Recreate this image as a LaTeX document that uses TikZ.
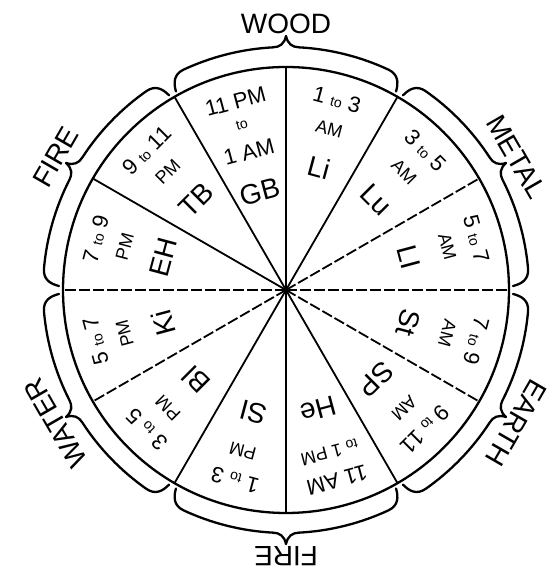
\documentclass[tikz,border=0pt]{standalone}
\usepackage{fontspec}
\setmainfont{Liberation Sans}
\newcommand\tto{{\fontsize{14}{14}\selectfont to}}
\begin{document}
\begin{tikzpicture}[x=1pt,y=1pt,
  rim/.style={line width=2.3pt},
  spoke/.style={line width=1.8pt},
  brk/.style={line width=1.8pt, dash pattern=on 11pt off 3pt},
  elembrace/.style={line width=2.3pt, line join=round, line cap=round},
  tm/.style={font=\fontsize{22}{22}\selectfont, inner sep=0pt},
  ap/.style={font=\fontsize{18}{18}\selectfont, inner sep=0pt},
  org/.style={font=\fontsize{28}{28}\selectfont, inner sep=0pt},
  elem/.style={font=\fontsize{28}{28}\selectfont, inner sep=0pt}]
\fill[white] (0,0) rectangle (552,575);
\useasboundingbox (0,0) rectangle (552,575);
\begin{scope}[shift={(286,285)}]
  \coordinate (O) at (0,0);
  % rim
  \draw[rim] (O) circle[radius=223];
  % spokes
  \foreach \a in {90,60,120,-60,-90,-120,150}{
    \coordinate (p\a) at (\a:223);
    \draw[spoke] (O) -- (p\a);
  }
  \foreach \a in {0,30,-30,180,-150}{
    \coordinate (p\a) at (\a:223);
    \draw[brk] (O) -- (p\a);
  }
  % element braces and labels
  \foreach \m/\i/\lbl in {90/1/WOOD,30/2/METAL,-30/3/EARTH,-90/4/FIRE,-150/5/WATER,150/6/FIRE}{
    \draw[elembrace] ({\m+29}:227) .. controls ({\m+28.5}:236) and ({\m+27.5}:243) .. ({\m+25}:243)
      arc[start angle={\m+25}, end angle={\m+3}, radius=243]
      .. controls ({\m+1.5}:243) and ({\m+0.4}:246) .. (\m:254)
      .. controls ({\m-0.4}:246) and ({\m-1.5}:243) .. ({\m-3}:243)
      arc[start angle={\m-3}, end angle={\m-25}, radius=243]
      .. controls ({\m-27.5}:243) and ({\m-28.5}:236) .. ({\m-29}:227);
    \node[elem, rotate={\m-90}] (e\i) at (\m:266) {\lbl};
  }
  % sector texts (three-line sectors)
  \foreach \m/\t/\u/\o/\n in {
      75/1 \tto{} 3/AM/Li/a,
      45/3 \tto{} 5/AM/Lu/b,
      15/5 \tto{} 7/AM/LI/c,
      -15/7 \tto{} 9/AM/St/d,
      -45/9 \tto{} 11/AM/SP/e,
      -105/1 \tto{} 3/PM/SI/g,
      -135/3 \tto{} 5/PM/Bl/h,
      -165/5 \tto{} 7/PM/Ki/i,
      165/7 \tto{} 9/PM/EH/j,
      135/9 \tto{} 11/PM/TB/k}{
    \node[tm, rotate={\m-90}] (t\n) at (\m:197) {\t};
    \node[ap, rotate={\m-90}] (u\n) at (\m:167) {\u};
    \node[org, rotate={\m-90}] (o\n) at (\m:127) {\o};
  }
  % 11 AM to 1 PM
  \node[tm, rotate=-165] (tf) at (-75:197) {11 AM};
  \node[ap, rotate=-165] (uf) at (-75:168) {\tto{} 1 PM};
  \node[org, rotate=-165] (of) at (-75:124) {He};
  % 11 PM to 1 AM
  \node[tm, rotate=15] (tl) at (105:195) {11 PM};
  \node[ap, rotate=15] (ul) at (105:171) {\tto};
  \node[tm, rotate=15] (vl) at (105:143) {1 AM};
  \node[org, rotate=15] (ol) at (105:102) {GB};
\end{scope}
\end{tikzpicture}
\end{document}
